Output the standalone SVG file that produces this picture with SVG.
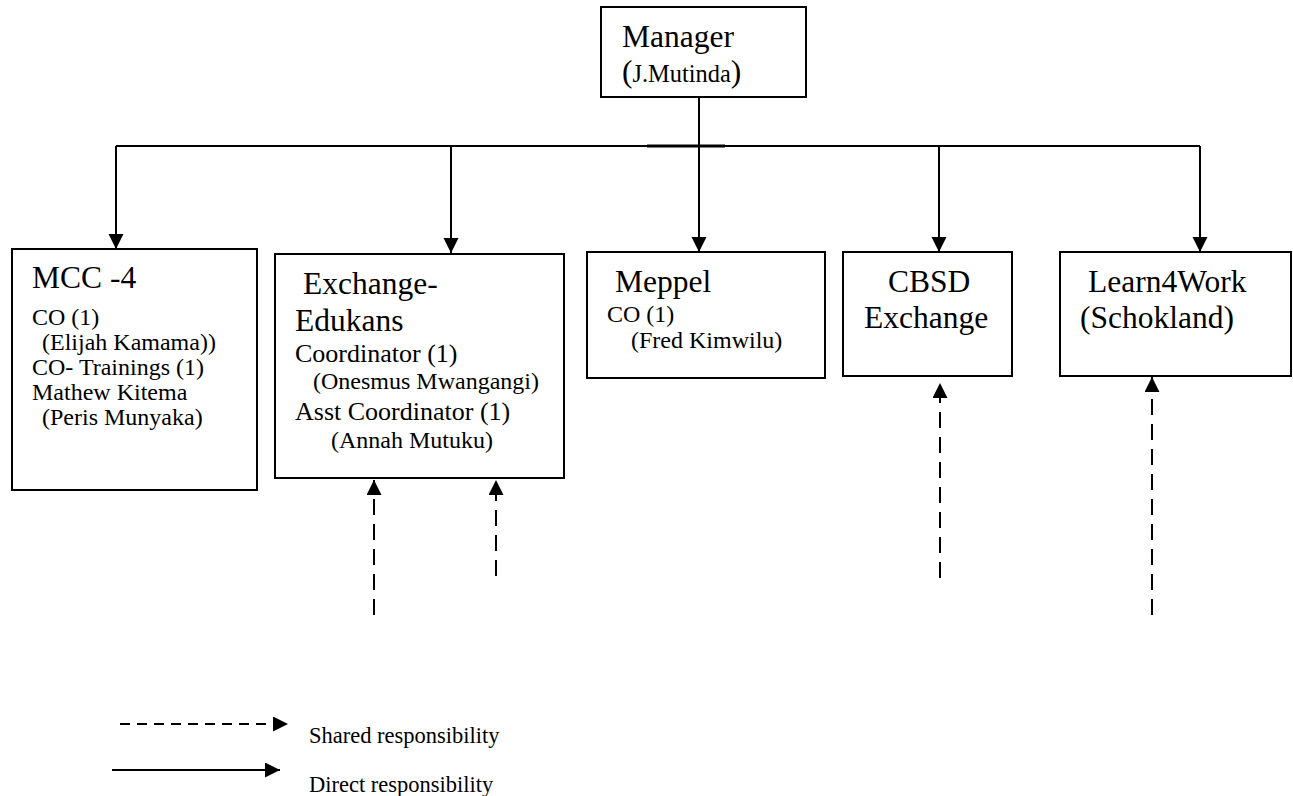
<svg xmlns="http://www.w3.org/2000/svg" width="1293" height="796" viewBox="0 0 1293 796">
<style>
.box{fill:#fff;stroke:#000;stroke-width:2}
.ln{stroke:#000;stroke-width:2;fill:none}
.dash{stroke:#000;stroke-width:2;fill:none;stroke-dasharray:16 9}
text{font-family:"Liberation Serif","Times New Roman",serif;fill:#000}
</style>
<defs>
<marker id="ah" markerWidth="16" markerHeight="16" refX="15" refY="7.5" orient="auto" markerUnits="userSpaceOnUse">
<path d="M0,0 L15,7.5 L0,15 Z" fill="#000"/>
</marker>
</defs>
<rect width="1293" height="796" fill="#fff"/>
<g id="connectors">
<line class="ln" x1="699" y1="97" x2="699" y2="146"/>
<line class="ln" x1="116" y1="146" x2="1200" y2="146"/>
<line x1="647" y1="146" x2="725" y2="146" stroke="#000" stroke-width="3"/>
<line class="ln" x1="116" y1="146" x2="116" y2="249" marker-end="url(#ah)"/>
<line class="ln" x1="451" y1="146" x2="451" y2="253" marker-end="url(#ah)"/>
<line class="ln" x1="699" y1="146" x2="699" y2="252" marker-end="url(#ah)"/>
<line class="ln" x1="939" y1="146" x2="939" y2="252" marker-end="url(#ah)"/>
<line class="ln" x1="1200" y1="146" x2="1200" y2="252" marker-end="url(#ah)"/>
<line class="dash" x1="374" y1="615" x2="374" y2="480" marker-end="url(#ah)"/>
<line class="dash" x1="496" y1="576" x2="496" y2="480" marker-end="url(#ah)"/>
<line class="dash" x1="940" y1="578" x2="940" y2="383" marker-end="url(#ah)"/>
<line class="dash" x1="1152" y1="615" x2="1152" y2="377" marker-end="url(#ah)"/>
</g>
<g id="manager" font-family="Liberation Serif, Times New Roman, serif">
<rect class="box" x="601" y="7" width="205" height="90"/>
<text font-size="31.5" x="622" y="47">Manager</text>
<text x="622" y="82"><tspan font-size="31.5">(</tspan><tspan font-size="24.4">J.Mutinda</tspan><tspan font-size="31.5">)</tspan></text>
</g>
<g id="mcc4" font-family="Liberation Serif, Times New Roman, serif" font-size="24">
<rect class="box" x="12" y="249" width="245" height="241"/>
<text font-size="31.5" x="32" y="288">MCC -4</text>
<text x="32" y="325">CO (1)</text>
<text x="42" y="350">(Elijah Kamama))</text>
<text x="32" y="375">CO- Trainings (1)</text>
<text x="32" y="400">Mathew Kitema</text>
<text x="42" y="425">(Peris Munyaka)</text>
</g>
<g id="exchange-edukans" font-family="Liberation Serif, Times New Roman, serif" font-size="24">
<rect class="box" x="275" y="254" width="289" height="224"/>
<text font-size="31.5" x="303" y="294">Exchange-</text>
<text font-size="31.5" x="295" y="331">Edukans</text>
<text font-size="26" x="295" y="362">Coordinator (1)</text>
<text x="313" y="389">(Onesmus Mwangangi)</text>
<text font-size="26" x="295" y="420">Asst Coordinator (1)</text>
<text x="331" y="448">(Annah Mutuku)</text>
</g>
<g id="meppel" font-family="Liberation Serif, Times New Roman, serif" font-size="24">
<rect class="box" x="587" y="252" width="238" height="126"/>
<text font-size="31.5" x="615" y="292">Meppel</text>
<text x="607" y="322">CO (1)</text>
<text x="631" y="348">(Fred Kimwilu)</text>
</g>
<g id="cbsd-exchange" font-family="Liberation Serif, Times New Roman, serif" font-size="31.5">
<rect class="box" x="843" y="252" width="169" height="124"/>
<text x="888" y="292">CBSD</text>
<text x="864" y="328">Exchange</text>
</g>
<g id="learn4work" font-family="Liberation Serif, Times New Roman, serif" font-size="31.5">
<rect class="box" x="1060" y="252" width="231" height="124"/>
<text x="1088" y="292">Learn4Work</text>
<text x="1080" y="328">(Schokland)</text>
</g>
<g id="legend" font-family="Liberation Serif, Times New Roman, serif" font-size="22.5">
<line x1="120" y1="724" x2="288" y2="724" stroke="#000" stroke-width="2" stroke-dasharray="10 7" marker-end="url(#ah)"/>
<text x="309" y="743">Shared responsibility</text>
<line class="ln" x1="112" y1="770" x2="280" y2="770" marker-end="url(#ah)"/>
<text x="309" y="792">Direct responsibility</text>
</g>
</svg>
